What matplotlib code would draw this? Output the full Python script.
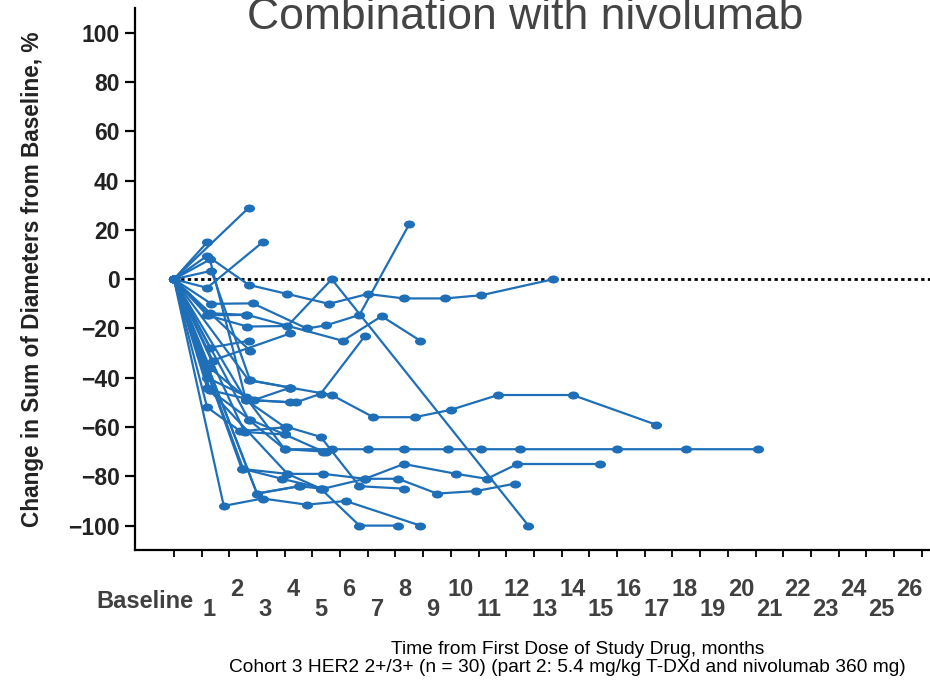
"""
Spider plot: change in sum of diameters over time, T-DXd + nivolumab cohort 3
"""

import matplotlib.pyplot as plt
from matplotlib.path import Path

# visit times (months) and % change per patient
visit_months = [
    [0, 1.2],
    [0, 2.7],
    [0, 1.2, 3.2],
    [0, 1.2, 2.7, 4.1, 5.6, 7.0, 8.3, 9.8, 11.1, 13.7],
    [0, 1.2, 2.65, 4.1, 5.7, 12.8],
    [0, 1.35, 2.85, 4.8, 5.5, 6.7, 8.5],
    [0, 1.3, 2.65, 6.1, 7.5, 8.9],
    [0, 1.4, 4.2],
    [0, 1.3, 2.7],
    [0, 1.35, 2.75, 4.2],
    [0, 1.3, 2.6, 4.4, 5.3, 6.9],
    [0, 1.2, 2.9, 4.2, 5.7, 7.2, 8.7, 10.0, 11.7, 14.4, 17.4],
    [0, 1.3, 2.75, 4.0, 5.4],
    [0, 1.2, 2.4, 4.1, 5.3, 6.7, 8.3],
    [0, 1.3, 2.6, 4.0, 5.7, 7.0, 8.3, 9.9, 11.1, 12.5, 16.0, 18.5, 21.1],
    [0, 1.2, 4.1, 5.4, 6.9, 8.3, 10.2, 11.3, 12.4, 15.4],
    [0, 1.8, 3.2, 4.8, 6.2, 8.9],
    [0, 2.5, 3.9, 5.4, 6.9, 8.1, 9.5, 10.9, 12.3],
    [0, 3.0, 4.55, 5.3, 6.7, 8.1],
    [0, 2.75],
    [0, 2.6, 4.0],
    [0, 2.7, 4.0, 5.5],
    [0, 2.45, 4.1, 5.3],
    [0, 3.0, 4.5],
    [0, 2.7, 4.2],
    [0, 2.55, 4.0],
    [0, 1.25, 2.6],
    [0, 1.3, 2.8, 4.2],
]

pct_change = [
    [0, 15],
    [0, 29],
    [0, -3.5, 15],
    [0, 9.5, -2.3, -6, -10, -6, -7.8, -7.8, -6.5, 0],
    [0, -14.6, -19.2, -19, 0, -100],
    [0, -10, -9.8, -20, -18.7, -14.5, 22.4],
    [0, -13.8, -14.5, -25, -15, -25],
    [0, -33, -22],
    [0, -27.8, -25],
    [0, 3.4, -41, -44],
    [0, 8, -49, -50, -46.5, -23],
    [0, -40, -49, -44, -47, -56, -56, -53, -47, -47, -59],
    [0, -45, -57, -63, -70],
    [0, -52, -61.7, -60, -64, -84, -85],
    [0, -36, -48, -69, -69, -69, -69, -69, -69, -69, -69, -69, -69],
    [0, -44, -79, -79, -81, -75, -79, -81, -75, -75],
    [0, -92, -89, -91.5, -90, -100],
    [0, -77, -81, -85, -81, -81, -87, -86, -83],
    [0, -87, -84, -85, -100, -100],
    [0, -29],
    [0, -49, -60],
    [0, -57, -69, -70],
    [0, -77, -79, -85],
    [0, -87, -84],
    [0, -41, -44],
    [0, -62, -63],
    [0, -14.6, -14.5],
    [0, -45, -49, -50],
]

month_ticks = list(range(0, 28))
month_labels = list(range(1, 27))
y_ticks = list(range(-100, 101, 20))

BLUE = '#1f6fb8'
GREY = '#404040'
NARROW = ['Liberation Sans Narrow', 'Liberation Sans']

circle = Path.unit_circle()
ellipse = Path(circle.vertices * [1.0, 0.72], circle.codes)

fig = plt.figure(figsize=(9.3, 6.81), dpi=100)
ax = fig.add_axes([0.145, 0.192, 0.855, 0.796])

for m, v in zip(visit_months, pct_change):
    ax.plot(m, v, color=BLUE, lw=1.6, marker=ellipse, markersize=8,
            markeredgewidth=0, markerfacecolor=BLUE, zorder=3)

ax.set_xlim(-1.41, 27.3)
ax.set_ylim(-110, 110)
ax.hlines(0, 0, ax.get_xlim()[1], colors='black', linestyles=(0, (1.2, 1.2)),
          lw=2, zorder=2)

for side in ('top', 'right'):
    ax.spines[side].set_visible(False)
for side in ('left', 'bottom'):
    ax.spines[side].set_linewidth(1.6)

ax.set_xticks(month_ticks)
ax.set_xticklabels([])
ax.tick_params(axis='x', direction='out', length=5, width=1.3)
ax.set_yticks(y_ticks)
ax.set_yticklabels([f'\u2212{abs(t)}' if t < 0 else str(t) for t in y_ticks],
                   fontsize=16.5, fontweight='bold', color='#222222',
                   family='Liberation Sans')
ax.tick_params(axis='y', direction='out', length=7, width=1.6, pad=4)

ax.set_ylabel('Change in Sum of Diameters from Baseline, %', fontsize=16.3,
              fontweight='bold', family='Liberation Sans', color='#222222')
ax.yaxis.set_label_coords(-0.114, 0.5)

# staggered month labels under the axis
xfont = dict(fontsize=17, fontweight='bold', color=GREY, family=NARROW,
             ha='center')
trans = ax.get_xaxis_transform()
ax.text(-1.05, -0.094, 'Baseline', va='center', transform=trans, **xfont)
for k in month_labels:
    ypos = -0.072 if k % 2 == 0 else -0.11
    ax.text(k * 1.011 + 0.26, ypos, str(k), va='center', transform=trans,
            **xfont)

fig.text(578 / 930, 1 - 649 / 681, 'Time from First Dose of Study Drug, months',
         ha='center', va='center', fontsize=13.8, family=NARROW)
fig.text(567 / 930, 1 - 668 / 681,
         'Cohort 3 HER2 2+/3+ (n = 30) (part 2: 5.4 mg/kg T-DXd and nivolumab 360 mg)',
         ha='center', va='center', fontsize=13.8, family=NARROW)

# the title sits partly above the top edge, as in the source slide
fig.text(525 / 930, 1 - 29 / 681, 'Combination with nivolumab', ha='center',
         va='baseline', fontsize=32, color='#444444', family='Liberation Sans')

fig.savefig('out.png', dpi=100, facecolor='white')
